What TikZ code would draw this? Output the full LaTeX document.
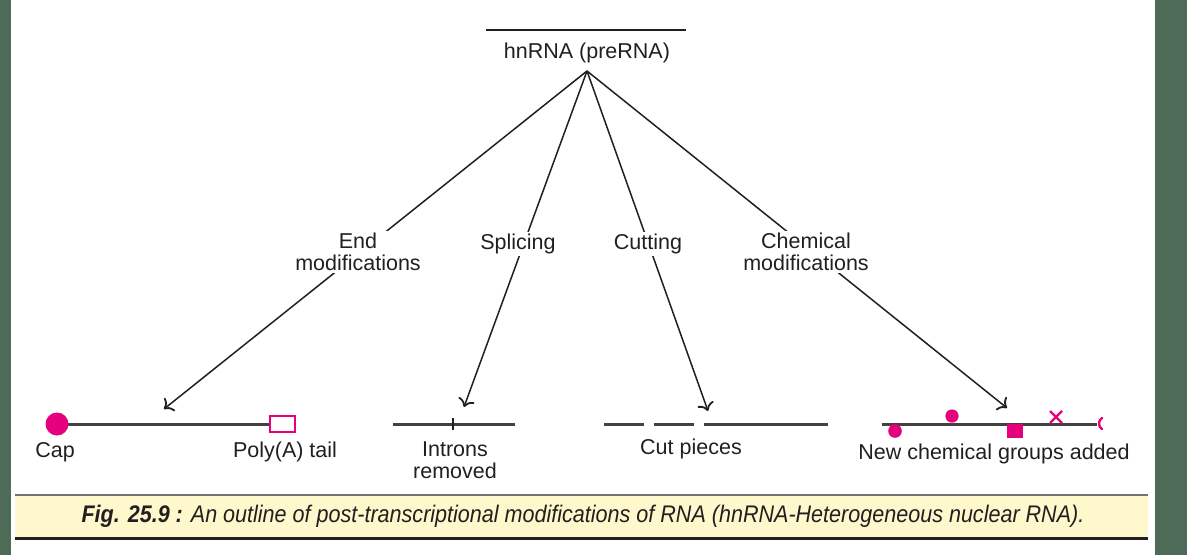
\documentclass[tikz,border=0pt]{standalone}
\usepackage{fontspec}
\setmainfont{Liberation Sans}
\usetikzlibrary{arrows.meta}
\definecolor{frame}{HTML}{4E6B58}
\definecolor{mag}{HTML}{E5007D}
\definecolor{ink}{HTML}{231F20}
\definecolor{capbg}{HTML}{FFF8CC}
\tikzset{
  lbl/.style={font=\fontsize{21.5}{22}\selectfont, text=ink, align=center, inner sep=1pt},
  cutlbl/.style={lbl, fill=white, inner sep=2pt},
  conn/.style={draw=ink, line width=1.5pt, -{To[length=8pt,width=17pt,line width=1.8pt]}},
  strand/.style={draw=ink!85, line width=3pt},
  grp/.style={fill=mag, draw=none},
}
\begin{document}
\begin{tikzpicture}[x=1pt,y=-1pt]
\useasboundingbox (0,0) rectangle (1187,555);
\fill[frame] (0,0) rectangle (1187,555);
\fill[white] (11,0) rectangle (1155,555);

% title
\draw[ink, line width=2.5pt] (486,30) -- (686,30);
\node[lbl] (hn) at (587,53) {hnRNA (preRNA)};
\coordinate (apex) at (587,71);

% tips
\coordinate (tEnd) at (164,409);
\coordinate (tSpl) at (464,407);
\coordinate (tCut) at (708,411);
\coordinate (tChe) at (1007,408);

\draw[conn] (apex) -- (tEnd);
\draw[conn] (apex) -- (tSpl);
\draw[conn] (apex) -- (tCut);
\draw[conn] (apex) -- (tChe);

\node[cutlbl] (lEnd) at (358,252) {End\\modifications};
\node[cutlbl] (lSpl) at (518,244) {Splicing};
\node[cutlbl] (lCut) at (648,244) {Cutting};
\node[cutlbl] (lChe) at (806,252) {Chemical\\modifications};

% end modifications
\draw[strand] (60,424) -- (270,424);
\fill[mag] (57,424) circle (11.5);
\draw[mag, line width=2.4pt, fill=white] (270,416) rectangle (295,432);
\node[lbl] (cap) at (55,452) {Cap};
\node[lbl] (poly) at (285,452) {Poly(A) tail};

% splicing
\draw[strand] (393,424) -- (515,424);
\draw[ink, line width=2.4pt] (453,418) -- (453,430);
\node[lbl] (intr) at (455,460) {Introns\\removed};

% cutting
\draw[strand] (604,424) -- (644,424);
\draw[strand] (654,424) -- (694,424);
\draw[strand] (704,424) -- (828,424);
\node[lbl] (cutp) at (691,449) {Cut pieces};

% chemical
\draw[strand] (882,424) -- (1097,424);
\fill[mag] (895,431) circle (6.8);
\fill[mag] (952,416) circle (6.6);
\fill[mag] (1007,424) rectangle (1023,438);
\draw[mag, line width=2.4pt] (1050,411) -- (1062,423) (1050,423) -- (1062,411);
\draw[mag, line width=2.4pt, line cap=round] (1102,418) .. controls (1098,420) and (1098,427) .. (1102,429);
\node[lbl] (newc) at (994,454) {New chemical groups added};

% caption
\fill[capbg] (15,495) rectangle (1148,538);
\draw[black!55, line width=2.5pt] (15,495) -- (1148,495);
\draw[ink, line width=3pt] (15,538) -- (1148,538);
\node[inner sep=0pt, text=ink] (capt) at (583,516) {\resizebox{1003pt}{\height}{\fontsize{24}{25}\selectfont\itshape\textbf{Fig. 25.9 :} An outline of post-transcriptional modifications of RNA (hnRNA-Heterogeneous nuclear RNA).}};
\end{tikzpicture}
\end{document}
